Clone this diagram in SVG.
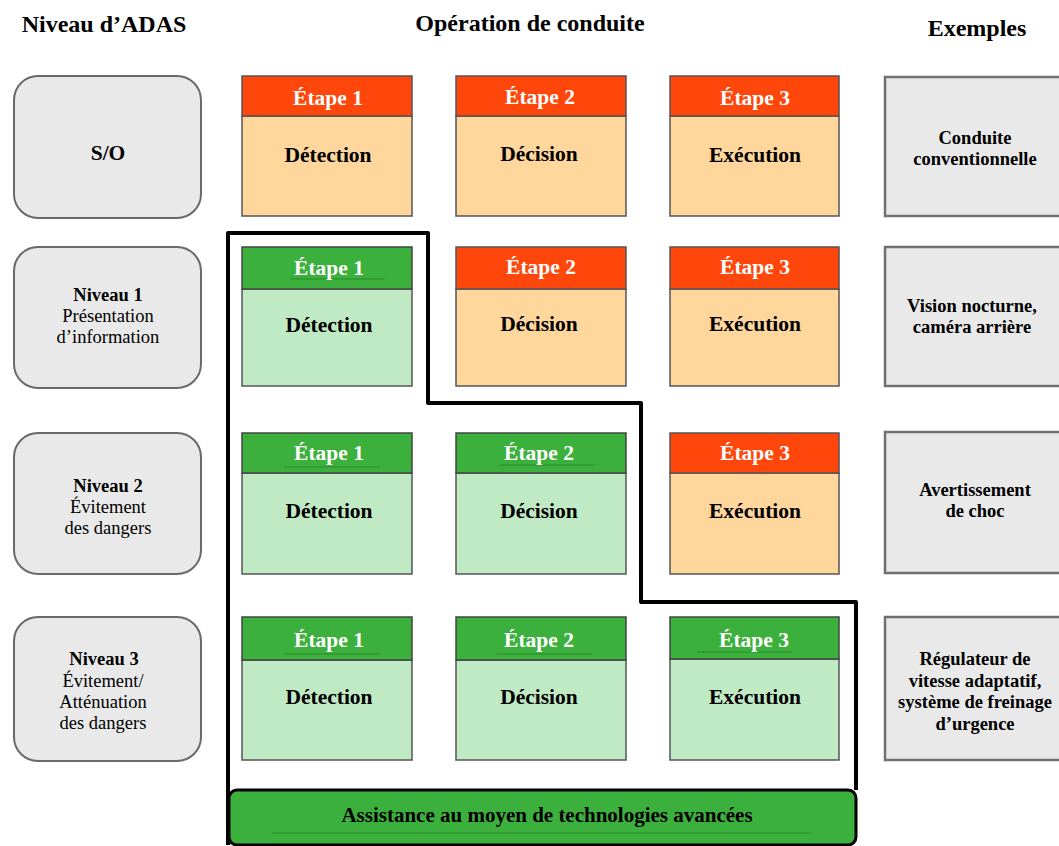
<svg xmlns="http://www.w3.org/2000/svg" width="1059" height="846" viewBox="0 0 1059 846">
<style>
text{font-family:"Liberation Serif","Times New Roman",serif;text-anchor:middle;fill:#000}
.t{font-size:24px;font-weight:bold}
.hd{font-size:21.5px;font-weight:bold;fill:#fff}
.bd{font-size:21.5px;font-weight:bold}
.lv{font-size:18.5px}
.b{font-weight:bold}
.as{font-size:21px;font-weight:bold}
.lvl{fill:#e9e9e9;stroke:#6a6a6a;stroke-width:2}
.ex{fill:#e9e9e9;stroke:#707070;stroke-width:2.5}
.oh{fill:#ff460b;stroke:#555;stroke-width:1.5}
.ob{fill:#ffd69c;stroke:#555;stroke-width:1.5}
.gh{fill:#3cb03c;stroke:#444;stroke-width:1.5}
.gb{fill:#c0eac4;stroke:#555;stroke-width:1.5}
.ul{stroke:#2a8a2a;stroke-width:1.2}
</style>
<rect width="1059" height="846" fill="#fff"/>
<g id="titles">
<text class="t" x="104" y="32">Niveau d’ADAS</text>
<text class="t" x="530" y="31">Opération de conduite</text>
<text class="t" x="977" y="36">Exemples</text>
</g>
<g id="levels">
<g id="lvl0"><rect class="lvl" x="14" y="76" width="187" height="142" rx="24"/><text class="bd" x="108" y="160">S/O</text></g>
<g id="lvl1"><rect class="lvl" x="14" y="247" width="187" height="141" rx="24"/><text class="lv b" x="108" y="301">Niveau 1</text><text class="lv" x="108" y="322">Présentation</text><text class="lv" x="108" y="343">d’information</text></g>
<g id="lvl2"><rect class="lvl" x="14" y="433" width="187" height="141" rx="24"/><text class="lv b" x="108" y="492">Niveau 2</text><text class="lv" x="108" y="513">Évitement</text><text class="lv" x="108" y="534">des dangers</text></g>
<g id="lvl3"><rect class="lvl" x="14" y="617" width="187" height="144" rx="24"/><text class="lv b" x="104" y="665">Niveau 3</text><text class="lv" x="103" y="687">Évitement/</text><text class="lv" x="103" y="708">Atténuation</text><text class="lv" x="103" y="729">des dangers</text></g>
</g>
<g id="connectors">
<path d="M228,845 V233 H428 V403 H641 V602 H856 V790" fill="none" stroke="#000" stroke-width="4" stroke-linejoin="round"/>
</g>
<g id="assist">
<rect x="229" y="790" width="627" height="55" rx="8" fill="#3cb03c" stroke="#000" stroke-width="3"/>
<line class="ul" x1="272" y1="833" x2="811" y2="833"/>
<text class="as" x="547" y="822">Assistance au moyen de technologies avancées</text>
</g>
<g id="steps">
<!-- row 1 -->
<g id="r1c1"><rect class="ob" x="242" y="116" width="170" height="100"/><rect class="oh" x="242" y="76" width="170" height="40"/><text class="hd" x="328" y="105">Étape 1</text><text class="bd" x="328" y="162">Détection</text></g>
<g id="r1c2"><rect class="ob" x="456" y="116" width="170" height="100"/><rect class="oh" x="456" y="76" width="170" height="40"/><text class="hd" x="540" y="104">Étape 2</text><text class="bd" x="539" y="161">Décision</text></g>
<g id="r1c3"><rect class="ob" x="670" y="116" width="169" height="100"/><rect class="oh" x="670" y="76" width="169" height="40"/><text class="hd" x="755" y="105">Étape 3</text><text class="bd" x="755" y="162">Exécution</text></g>
<!-- row 2 -->
<g id="r2c1"><rect class="gb" x="242" y="289" width="170" height="97"/><rect class="gh" x="242" y="247" width="170" height="42"/><line class="ul" x1="290" y1="279" x2="385" y2="279"/><text class="hd" x="329" y="275">Étape 1</text><text class="bd" x="329" y="332">Détection</text></g>
<g id="r2c2"><rect class="ob" x="456" y="289" width="170" height="97"/><rect class="oh" x="456" y="247" width="170" height="42"/><text class="hd" x="541" y="274">Étape 2</text><text class="bd" x="539" y="331">Décision</text></g>
<g id="r2c3"><rect class="ob" x="670" y="289" width="169" height="97"/><rect class="oh" x="670" y="247" width="169" height="42"/><text class="hd" x="755" y="274">Étape 3</text><text class="bd" x="755" y="331">Exécution</text></g>
<!-- row 3 -->
<g id="r3c1"><rect class="gb" x="242" y="473" width="170" height="101"/><rect class="gh" x="242" y="433" width="170" height="40"/><line class="ul" x1="284" y1="467" x2="380" y2="467"/><text class="hd" x="329" y="460">Étape 1</text><text class="bd" x="329" y="518">Détection</text></g>
<g id="r3c2"><rect class="gb" x="456" y="473" width="170" height="101"/><rect class="gh" x="456" y="433" width="170" height="40"/><line class="ul" x1="499" y1="465" x2="594" y2="465"/><text class="hd" x="539" y="460">Étape 2</text><text class="bd" x="539" y="518">Décision</text></g>
<g id="r3c3"><rect class="ob" x="670" y="473" width="169" height="101"/><rect class="oh" x="670" y="433" width="169" height="40"/><text class="hd" x="755" y="460">Étape 3</text><text class="bd" x="755" y="518">Exécution</text></g>
<!-- row 4 -->
<g id="r4c1"><rect class="gb" x="242" y="660" width="170" height="100"/><rect class="gh" x="242" y="617" width="170" height="43"/><line class="ul" x1="284" y1="654" x2="380" y2="654"/><text class="hd" x="329" y="647">Étape 1</text><text class="bd" x="329" y="704">Détection</text></g>
<g id="r4c2"><rect class="gb" x="456" y="660" width="170" height="100"/><rect class="gh" x="456" y="617" width="170" height="43"/><line class="ul" x1="497" y1="654" x2="592" y2="654"/><text class="hd" x="539" y="647">Étape 2</text><text class="bd" x="539" y="704">Décision</text></g>
<g id="r4c3"><rect class="gb" x="670" y="659" width="169" height="101"/><rect class="gh" x="670" y="617" width="169" height="42"/><line class="ul" x1="697" y1="652" x2="792" y2="652"/><text class="hd" x="754" y="647">Étape 3</text><text class="bd" x="755" y="704">Exécution</text></g>
</g>
<g id="examples">
<g id="ex0"><rect class="ex" x="885" y="77" width="180" height="139"/><text class="lv b" x="975" y="144">Conduite</text><text class="lv b" x="975" y="165">conventionnelle</text></g>
<g id="ex1"><rect class="ex" x="885" y="247" width="180" height="139"/><text class="lv b" x="972" y="312">Vision nocturne,</text><text class="lv b" x="972" y="333">caméra arrière</text></g>
<g id="ex2"><rect class="ex" x="885" y="432" width="180" height="141"/><text class="lv b" x="975" y="496">Avertissement</text><text class="lv b" x="975" y="517">de choc</text></g>
<g id="ex3"><rect class="ex" x="885" y="617" width="180" height="143"/><text class="lv b" x="975" y="665">Régulateur de</text><text class="lv b" x="975" y="687">vitesse adaptatif,</text><text class="lv b" x="975" y="708">système de freinage</text><text class="lv b" x="975" y="730">d’urgence</text></g>
</g>
</svg>
